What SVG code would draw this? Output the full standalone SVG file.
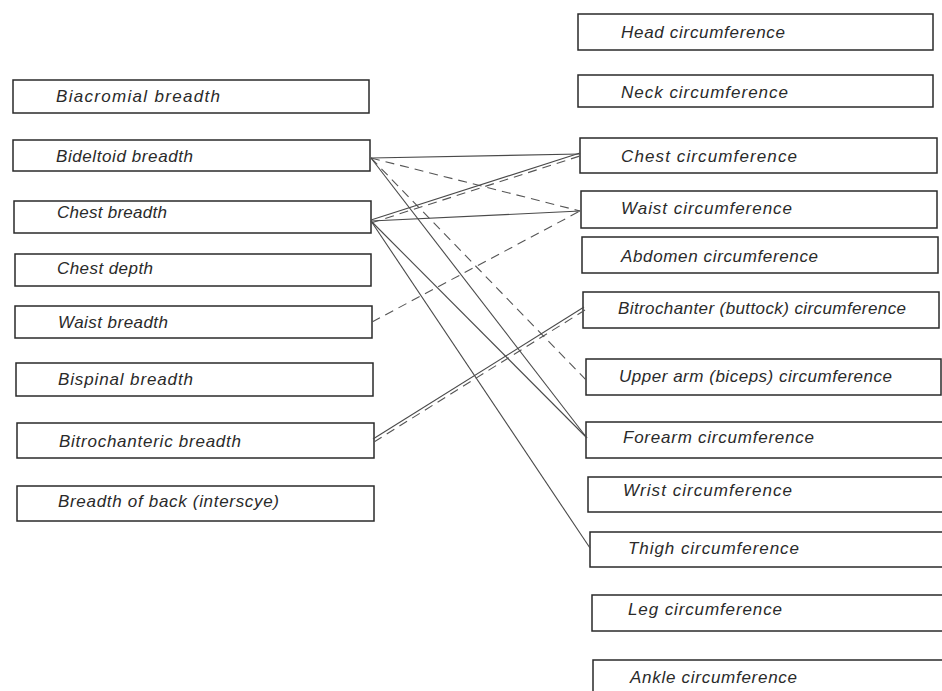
<svg xmlns="http://www.w3.org/2000/svg" width="942" height="691" viewBox="0 0 942 691">
  <style>
    .box { fill: #fff; stroke: #2a2a2a; stroke-width: 1.5; }
    .lbl { font-family: "Liberation Sans", "DejaVu Sans", sans-serif; font-style: italic; font-size: 17px; fill: #2a2a2a; }
    .solid { fill: none; stroke: #4a4a4a; stroke-width: 1.1; }
    .dash { fill: none; stroke: #555; stroke-width: 1.1; stroke-dasharray: 9 6; }
  </style>
  <rect width="942" height="691" fill="#fff"/>

  <!-- breadth measurements (left column) -->
  <g id="biacromial"><rect class="box" x="13" y="80" width="356" height="33"/><text class="lbl" x="56" y="102" textLength="164" lengthAdjust="spacing">Biacromial breadth</text></g>
  <g id="bideltoid"><rect class="box" x="13" y="140" width="357" height="31"/><text class="lbl" x="56" y="162" textLength="137" lengthAdjust="spacing">Bideltoid breadth</text></g>
  <g id="chest-breadth"><rect class="box" x="14" y="201" width="357" height="32"/><text class="lbl" x="57" y="218" textLength="110" lengthAdjust="spacing">Chest breadth</text></g>
  <g id="chest-depth"><rect class="box" x="15" y="254" width="356" height="32"/><text class="lbl" x="57" y="274" textLength="96" lengthAdjust="spacing">Chest depth</text></g>
  <g id="waist-breadth"><rect class="box" x="15" y="306" width="357" height="32"/><text class="lbl" x="58" y="328" textLength="110" lengthAdjust="spacing">Waist breadth</text></g>
  <g id="bispinal"><rect class="box" x="16" y="363" width="357" height="33"/><text class="lbl" x="58" y="385" textLength="135" lengthAdjust="spacing">Bispinal breadth</text></g>
  <g id="bitrochanteric"><rect class="box" x="17" y="423" width="357" height="35"/><text class="lbl" x="59" y="447" textLength="182" lengthAdjust="spacing">Bitrochanteric breadth</text></g>
  <g id="breadth-of-back"><rect class="box" x="17" y="486" width="357" height="35"/><text class="lbl" x="58" y="507" textLength="221" lengthAdjust="spacing">Breadth of back (interscye)</text></g>

  <!-- circumference measurements (right column) -->
  <g id="head"><rect class="box" x="578" y="14" width="355" height="36"/><text class="lbl" x="621" y="38" textLength="164" lengthAdjust="spacing">Head circumference</text></g>
  <g id="neck"><rect class="box" x="578" y="75" width="355" height="32"/><text class="lbl" x="621" y="98" textLength="167" lengthAdjust="spacing">Neck circumference</text></g>
  <g id="chest-circ"><rect class="box" x="580" y="138" width="357" height="35"/><text class="lbl" x="621" y="162" textLength="176" lengthAdjust="spacing">Chest circumference</text></g>
  <g id="waist-circ"><rect class="box" x="581" y="191" width="356" height="37"/><text class="lbl" x="621" y="214" textLength="171" lengthAdjust="spacing">Waist circumference</text></g>
  <g id="abdomen"><rect class="box" x="582" y="237" width="356" height="36"/><text class="lbl" x="621" y="262" textLength="197" lengthAdjust="spacing">Abdomen circumference</text></g>
  <g id="bitrochanter-circ"><rect class="box" x="583" y="292" width="356" height="36"/><text class="lbl" x="618" y="314" textLength="288" lengthAdjust="spacing">Bitrochanter (buttock) circumference</text></g>
  <g id="upper-arm"><rect class="box" x="586" y="359" width="355" height="36"/><text class="lbl" x="619" y="382" textLength="273" lengthAdjust="spacing">Upper arm (biceps) circumference</text></g>
  <g id="forearm"><rect class="box" x="586" y="422" width="360" height="36"/><text class="lbl" x="623" y="443" textLength="191" lengthAdjust="spacing">Forearm circumference</text></g>
  <g id="wrist"><rect class="box" x="588" y="477" width="360" height="35"/><text class="lbl" x="623" y="496" textLength="169" lengthAdjust="spacing">Wrist circumference</text></g>
  <g id="thigh"><rect class="box" x="590" y="532" width="360" height="35"/><text class="lbl" x="628" y="554" textLength="171" lengthAdjust="spacing">Thigh circumference</text></g>
  <g id="leg"><rect class="box" x="592" y="595" width="360" height="36"/><text class="lbl" x="628" y="615" textLength="154" lengthAdjust="spacing">Leg circumference</text></g>
  <g id="ankle"><rect class="box" x="593" y="660" width="360" height="40"/><text class="lbl" x="630" y="683" textLength="167" lengthAdjust="spacing">Ankle circumference</text></g>

  <!-- correlation lines: solid and dashed -->
  <g id="connectors">
    <line class="solid" x1="371" y1="158" x2="580" y2="154"/>
    <line class="dash" x1="371" y1="158" x2="580" y2="211"/>
    <line class="dash" x1="371" y1="158" x2="587" y2="381"/>
    <line class="solid" x1="371" y1="158" x2="587" y2="438"/>
    <line class="solid" x1="371" y1="220" x2="580" y2="153"/>
    <line class="dash" x1="371" y1="223" x2="580" y2="156"/>
    <line class="solid" x1="371" y1="221" x2="580" y2="211"/>
    <line class="solid" x1="371" y1="221" x2="587" y2="438"/>
    <line class="solid" x1="371" y1="221" x2="590" y2="548"/>
    <line class="dash" x1="372" y1="322" x2="580" y2="211"/>
    <line class="solid" x1="373" y1="439" x2="584" y2="307"/>
    <line class="dash" x1="374" y1="442" x2="585" y2="310"/>
  </g>
</svg>
